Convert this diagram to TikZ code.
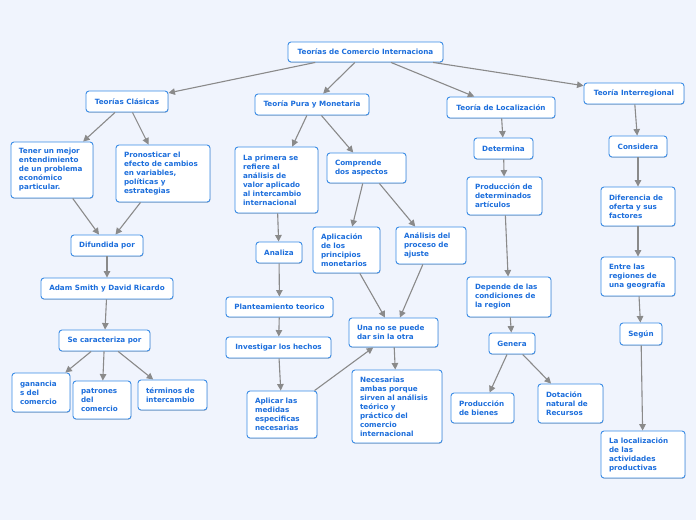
\documentclass[tikz,border=0pt]{standalone}
\usepackage{fontspec}
\setmainfont{DejaVu Sans}
\usetikzlibrary{arrows.meta,shadows}
\definecolor{bgblue}{RGB}{240,244,253}
\definecolor{boxline}{RGB}{58,140,230}
\definecolor{boxtext}{RGB}{28,110,220}
\definecolor{linkgray}{RGB}{138,138,138}

\begin{document}
\begin{tikzpicture}[
    x=1pt, y=-1pt,
    concept/.style={rectangle, rounded corners=3pt, draw=boxline, line width=0.9pt, fill=white, text=boxtext, font=\fontsize{7.2}{9}\selectfont\bfseries, inner sep=2pt, drop shadow={shadow xshift=0.4pt, shadow yshift=-0.8pt, fill=black, opacity=0.2}},
    para/.style={concept, align=left, inner xsep=8pt},
    arrow/.style={-{Triangle[length=6.5pt,width=6.5pt]}, draw=linkgray, line width=1.1pt}
]
\fill[bgblue] (0,0) rectangle (696,520);
\useasboundingbox (0,0) rectangle (696,520);

\node[concept, minimum width=155pt, minimum height=20pt] (root) at (365.5,52) {Teorías de Comercio Internaciona};

\node[concept, minimum width=82pt, minimum height=21pt] (clasicas) at (127,101.5) {Teorías Clásicas};
\node[concept, minimum width=114pt, minimum height=21pt] (pura) at (312,104.5) {Teoría Pura y Monetaria};
\node[concept, minimum width=108pt, minimum height=21pt] (local) at (501,107.5) {Teoría de Localización};
\node[concept, minimum width=100pt, minimum height=21pt] (inter) at (634,93.5) {Teoría Interregional};

% clasicas
\node[para, text width=66pt, minimum height=56pt] (tener) at (52,170) {Tener un mejor\\entendimiento\\de un problema\\económico\\particular.};
\node[para, text width=78pt, minimum height=57pt] (pronost) at (163,173.5) {Pronosticar el\\efecto de cambios\\en variables,\\políticas y\\estrategias};
\node[concept, minimum width=72pt, minimum height=21pt] (difundida) at (107,245.5) {Difundida por};
\node[concept, minimum width=132pt, minimum height=21pt] (adam) at (107,288.5) {Adam Smith y David Ricardo};
\node[concept, minimum width=91pt, minimum height=21pt] (secar) at (104.5,340.5) {Se caracteriza por};
\node[para, text width=42pt, minimum height=39pt] (ganancia) at (41,392.5) {ganancia\\s del\\comercio};
\node[para, text width=42pt, minimum height=38pt] (patrones) at (102,400) {patrones\\del\\comercio};
\node[para, text width=53pt, minimum height=30pt] (terminos) at (172.5,395) {términos de\\intercambio};

% pura y monetaria
\node[para, text width=67pt, minimum height=66pt] (primera) at (276.5,180) {La primera se\\refiere al\\análisis de\\valor aplicado\\al intercambio\\internacional};
\node[para, text width=63pt, minimum height=30pt] (comprende) at (366.5,168) {Comprende\\dos aspectos};
\node[concept, minimum width=46pt, minimum height=21pt] (analiza) at (279,252.5) {Analiza};
\node[para, text width=51pt, minimum height=46pt] (aplicacion) at (346.5,250) {Aplicación\\de los\\principios\\monetarios};
\node[para, text width=54pt, minimum height=37pt] (analisis) at (431,245.5) {Análisis del\\proceso de\\ajuste};
\node[concept, minimum width=107pt, minimum height=20pt] (plant) at (279.5,307) {Planteamiento teorico};
\node[concept, minimum width=105pt, minimum height=21pt] (invest) at (278.5,347.5) {Investigar los hechos};
\node[para, text width=73pt, minimum height=29pt] (unano) at (393.5,332.5) {Una no se puede\\dar sin la otra};
\node[para, text width=54pt, minimum height=47pt] (aplicar) at (282,414.5) {Aplicar las\\medidas\\especificas\\necesarias};
\node[para, text width=74pt, minimum height=73pt] (necesarias) at (397,406.5) {Necesarias\\ambas porque\\sirven al análisis\\teórico y\\práctico del\\comercio\\internacional};

% localizacion
\node[concept, minimum width=59pt, minimum height=21pt] (determina) at (503.5,148.5) {Determina};
\node[para, text width=59pt, minimum height=38pt] (prodart) at (504.5,196) {Producción de\\determinados\\artículos};
\node[para, text width=68pt, minimum height=40pt] (depende) at (509,297) {Depende de las\\condiciones de\\la region};
\node[concept, minimum width=46pt, minimum height=21pt] (genera) at (512,343.5) {Genera};
\node[para, text width=47pt, minimum height=30pt] (prodbien) at (482.5,408) {Producción\\de bienes};
\node[para, text width=49pt, minimum height=39pt] (dotacion) at (570.5,403.5) {Dotación\\natural de\\Recursos};

% interregional
\node[concept, minimum width=58pt, minimum height=21pt] (considera) at (638,146.5) {Considera};
\node[para, text width=58pt, minimum height=39pt] (diferencia) at (638,206.5) {Diferencia de\\oferta y sus\\factores};
\node[para, text width=58pt, minimum height=39pt] (entre) at (638,276.5) {Entre las\\regiones de\\una geografía};
\node[concept, minimum width=42pt, minimum height=22pt] (segun) at (641,334) {Según};
\node[para, text width=68pt, minimum height=47pt] (localiz) at (643,454.5) {La localización\\de las\\actividades\\productivas};

\draw[arrow] (root) -- (clasicas);
\draw[arrow] (root) -- (pura);
\draw[arrow] (root) -- (local);
\draw[arrow] (root) -- (inter);

\draw[arrow] (clasicas) -- (tener);
\draw[arrow] (clasicas) -- (pronost);
\draw[arrow] (tener) -- (difundida);
\draw[arrow] (pronost) -- (difundida);
\draw[arrow] (difundida) -- (adam);
\draw[arrow] (adam) -- (secar);
\draw[arrow] (secar) -- (ganancia);
\draw[arrow] (secar) -- (patrones);
\draw[arrow] (secar) -- (terminos);

\draw[arrow] (pura) -- (primera);
\draw[arrow] (pura) -- (comprende);
\draw[arrow] (primera) -- (analiza);
\draw[arrow] (comprende) -- (aplicacion);
\draw[arrow] (comprende) -- (analisis);
\draw[arrow] (analiza) -- (plant);
\draw[arrow] (plant) -- (invest);
\draw[arrow] (invest) -- (aplicar);
\draw[arrow] (aplicar) -- (unano);
\draw[arrow] (aplicacion) -- (unano);
\draw[arrow] (analisis) -- (unano);
\draw[arrow] (unano) -- (necesarias);

\draw[arrow] (local) -- (determina);
\draw[arrow] (determina) -- (prodart);
\draw[arrow] (prodart) -- (depende);
\draw[arrow] (depende) -- (genera);
\draw[arrow] (genera) -- (prodbien);
\draw[arrow] (genera) -- (dotacion);

\draw[arrow] (inter) -- (considera);
\draw[arrow] (considera) -- (diferencia);
\draw[arrow] (diferencia) -- (entre);
\draw[arrow] (entre) -- (segun);
\draw[arrow] (segun) -- (localiz);

\end{tikzpicture}
\end{document}
